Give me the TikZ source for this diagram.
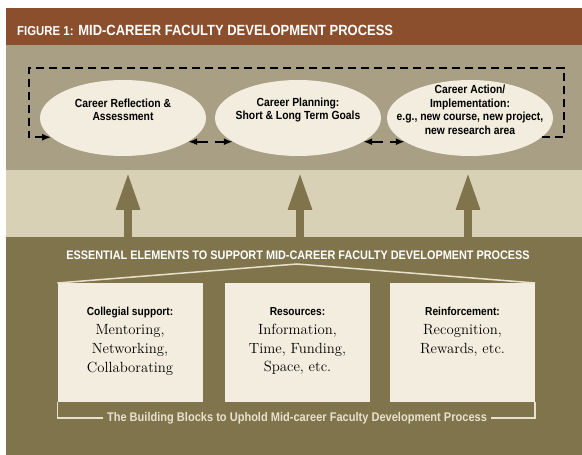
\documentclass[tikz,border=0pt]{standalone}
\usepackage{fontspec}
\newfontfamily\cond[FakeStretch=0.88]{Liberation Sans}
\usetikzlibrary{positioning,arrows.meta,shapes.geometric}
\definecolor{hdrbrown}{RGB}{139,79,45}
\definecolor{topgray}{RGB}{168,159,132}
\definecolor{midband}{RGB}{217,209,181}
\definecolor{darkolive}{RGB}{128,116,77}
\definecolor{cream}{RGB}{242,237,222}
\definecolor{paleline}{RGB}{232,226,204}

\begin{document}
\begin{tikzpicture}[x=1bp,y=-1bp,
 bubble/.style={ellipse,fill=cream,minimum width=166bp,minimum height=76bp,inner sep=0pt},
 bubbletext/.style={align=center,inner sep=0pt,font=\cond\bfseries\fontsize{11.8}{13.6}\selectfont},
 block/.style={fill=cream,minimum width=145bp,minimum height=119bp,inner sep=0pt,anchor=north},
 blocktext/.style={align=center,inner sep=0pt,font=\fontsize{14.8}{19}\selectfont},
 loopline/.style={line width=1.8bp,dash pattern=on 8bp off 5bp,-{Latex[length=9bp,width=7bp]}},
 pairline/.style={line width=1.8bp,dash pattern=on 12bp off 7bp,{Latex[length=9bp,width=7bp]}-{Latex[length=9bp,width=7bp]}},
 uparrow/.style={draw=darkolive,line width=8.5bp,-{Triangle[length=38bp,width=22bp]}},
 paleline/.style={draw=paleline,line width=1.5bp}]
\useasboundingbox (0,0) rectangle (582,455);
\fill[white] (0,0) rectangle (582,455);
\fill[hdrbrown] (6,8) rectangle (582,45);
\fill[topgray] (6,45) rectangle (582,170);
\fill[midband] (6,170) rectangle (582,237);
\fill[darkolive] (6,237) rectangle (582,455);
\node[anchor=base west,inner sep=0pt,text=white,font=\cond\bfseries\fontsize{14.8}{16}\selectfont] (hdr) at (17,36)
 {{\fontsize{13}{14}\selectfont FIGURE 1:} MID-CAREER FACULTY DEVELOPMENT PROCESS};
\node[bubble] (e1) at (123,118) {};
\node[bubble] (e2) at (298,118) {};
\node[bubble] (e3) at (470,118) {};
\node[bubbletext] (c1) at ([yshift=8bp]e1.center) {Career Reflection \&\\Assessment};
\node[bubbletext] (c2) at ([yshift=8bp]e2.center) {Career Planning:\\Short \& Long Term Goals};
\node[bubbletext] (c3) at ([yshift=8bp]e3.center) {Career Action/\\Implementation:\\e.g., new course, new project,\\new research area};
\coordinate (ne) at (564,68);
\coordinate (nw) at (29,68);
\draw[loopline] (e3.345) -| (ne) -- (nw) |- (e1.195);
\draw[pairline] (e1.340) -- (e2.200);
\draw[pairline] (e2.340) -- (e3.200);
\foreach \x in {128,300,468}
 \draw[uparrow] (\x,240) -- (\x,172);
\node[text=white,inner sep=0pt,font=\cond\bfseries\fontsize{12.4}{14}\selectfont] (ess) at (298,255)
 {ESSENTIAL ELEMENTS TO SUPPORT MID-CAREER FACULTY DEVELOPMENT PROCESS};
\node[block] (b1) at (130,283) {};
\node[block] (b2) at (297.5,283) {};
\node[block] (b3) at (462.5,283) {};
\coordinate (apex) at (297,264);
\draw[paleline] (b1.north west) -- (apex) -- (b3.north east);
\node[blocktext,below=24bp of b1.north] (s1) {{\cond\bfseries\fontsize{11.6}{19}\selectfont Collegial support:}\\Mentoring,\\Networking,\\Collaborating};
\node[blocktext,below=24bp of b2.north] (s2) {{\cond\bfseries\fontsize{11.6}{19}\selectfont Resources:}\\Information,\\Time, Funding,\\Space, etc.};
\node[blocktext,below=24bp of b3.north] (s3) {{\cond\bfseries\fontsize{11.6}{19}\selectfont Reinforcement:}\\Recognition,\\Rewards, etc.};
\node[text=paleline,inner sep=4bp,font=\cond\bfseries\fontsize{12.6}{14}\selectfont] (bb) at (297,418)
 {The Building Blocks to Uphold Mid-career Faculty Development Process};
\draw[paleline] (b1.south west) |- (bb.west);
\draw[paleline] (b3.south east) |- (bb.east);
\end{tikzpicture}
\end{document}
